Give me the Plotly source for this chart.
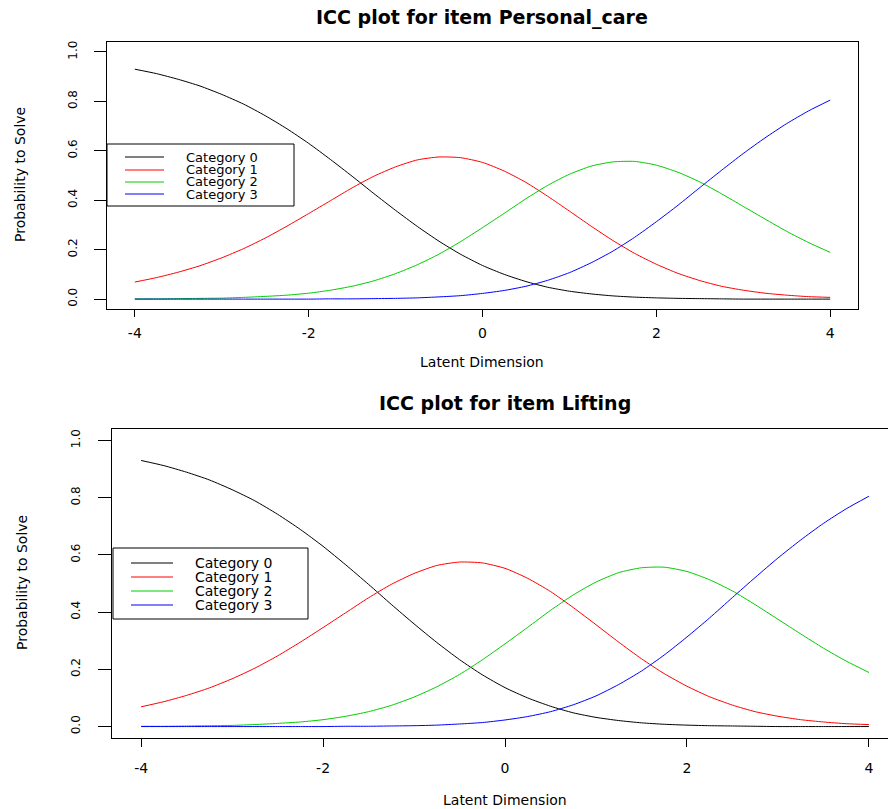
import plotly.graph_objects as go

W, H = 888, 809

# ---- data ----
theta = [-4, -3.75, -3.5, -3.25, -3, -2.75, -2.5, -2.25, -2, -1.75, -1.5, -1.25, -1, -0.75, -0.5, -0.25,
         0, 0.25, 0.5, 0.75, 1, 1.25, 1.5, 1.75, 2, 2.25, 2.5, 2.75, 3, 3.25, 3.5, 3.75, 4]

pc_cat0 = [0.930, 0.912, 0.889, 0.862, 0.828, 0.789, 0.742, 0.689, 0.630, 0.565, 0.497, 0.427, 0.359, 0.294, 0.234, 0.181,
           0.136, 0.100, 0.071, 0.048, 0.032, 0.021, 0.013, 0.008, 0.005, 0.003, 0.002, 0.001, 0.000, 0.000, 0.000, 0.000, 0.000]
pc_cat1 = [0.069, 0.087, 0.109, 0.135, 0.167, 0.204, 0.247, 0.295, 0.346, 0.398, 0.450, 0.497, 0.535, 0.563, 0.575, 0.572,
           0.553, 0.518, 0.472, 0.416, 0.356, 0.295, 0.237, 0.185, 0.141, 0.104, 0.075, 0.052, 0.036, 0.024, 0.016, 0.010, 0.007]
pc_cat2 = [0.001, 0.001, 0.002, 0.003, 0.004, 0.007, 0.011, 0.016, 0.024, 0.036, 0.052, 0.074, 0.103, 0.139, 0.182, 0.233,
           0.289, 0.347, 0.406, 0.460, 0.505, 0.538, 0.555, 0.557, 0.542, 0.513, 0.474, 0.426, 0.375, 0.324, 0.274, 0.229, 0.189]
pc_cat3 = [0.000, 0.000, 0.000, 0.000, 0.000, 0.000, 0.000, 0.000, 0.000, 0.001, 0.001, 0.002, 0.003, 0.005, 0.009, 0.014,
           0.023, 0.035, 0.052, 0.076, 0.107, 0.147, 0.194, 0.250, 0.313, 0.380, 0.451, 0.521, 0.589, 0.652, 0.710, 0.761, 0.805]

lf_cat0 = [0.930, 0.912, 0.889, 0.862, 0.828, 0.789, 0.742, 0.689, 0.630, 0.565, 0.497, 0.427, 0.359, 0.294, 0.234, 0.181,
           0.136, 0.100, 0.071, 0.048, 0.032, 0.021, 0.013, 0.008, 0.005, 0.003, 0.002, 0.001, 0.000, 0.000, 0.000, 0.000, 0.000]
lf_cat1 = [0.069, 0.087, 0.109, 0.135, 0.167, 0.204, 0.247, 0.295, 0.346, 0.398, 0.450, 0.497, 0.535, 0.563, 0.575, 0.572,
           0.553, 0.518, 0.472, 0.416, 0.356, 0.295, 0.237, 0.185, 0.141, 0.104, 0.075, 0.052, 0.036, 0.024, 0.016, 0.010, 0.007]
lf_cat2 = [0.001, 0.001, 0.002, 0.003, 0.004, 0.007, 0.011, 0.016, 0.024, 0.036, 0.052, 0.074, 0.103, 0.139, 0.182, 0.233,
           0.289, 0.347, 0.406, 0.460, 0.505, 0.538, 0.555, 0.557, 0.542, 0.513, 0.474, 0.426, 0.375, 0.324, 0.274, 0.229, 0.189]
lf_cat3 = [0.000, 0.000, 0.000, 0.000, 0.000, 0.000, 0.000, 0.000, 0.000, 0.001, 0.001, 0.002, 0.003, 0.005, 0.009, 0.014,
           0.023, 0.035, 0.052, 0.076, 0.107, 0.147, 0.194, 0.250, 0.313, 0.380, 0.451, 0.521, 0.589, 0.652, 0.710, 0.761, 0.805]

categories = ["Category 0", "Category 1", "Category 2", "Category 3"]
colors = ["#000000", "#FF0000", "#00CD00", "#0000FF"]
xticks = [-4, -2, 0, 2, 4]
xticklabels = ["-4", "-2", "0", "2", "4"]
yticks = [0, 0.2, 0.4, 0.6, 0.8, 1.0]
yticklabels = ["0.0", "0.2", "0.4", "0.6", "0.8", "1.0"]
titles = ["ICC plot for item Personal_care", "ICC plot for item Lifting"]
xlabel = "Latent Dimension"
ylabel = "Probability to Solve"

FONT = "DejaVu Sans"


def px(x):
    return x / W


def py(y):
    return 1 - y / H


fig = go.Figure()

series = [
    ("x", "y", [pc_cat0, pc_cat1, pc_cat2, pc_cat3]),
    ("x2", "y2", [lf_cat0, lf_cat1, lf_cat2, lf_cat3]),
]
for xa, ya, curves in series:
    for name, col, vals in zip(categories, colors, curves):
        fig.add_trace(go.Scatter(
            x=theta, y=vals, mode="lines", name=name,
            line=dict(color=col, width=1, shape="spline", smoothing=0.6),
            xaxis=xa, yaxis=ya, showlegend=False, hoverinfo="skip"))

axis_common = dict(showline=True, mirror=True, linecolor="black", linewidth=1,
                   showgrid=False, zeroline=False, ticks="outside",
                   tickcolor="black", tickwidth=1)
xfont = dict(family=FONT, size=14, color="black")
yfont = dict(family=FONT, size=12, color="black")

fig.update_layout(
    width=W, height=H, margin=dict(l=0, r=0, t=0, b=0),
    paper_bgcolor="white", plot_bgcolor="white",
    xaxis=dict(domain=[px(107), px(858)], range=[-4.32, 4.32], tickvals=xticks, ticktext=xticklabels,
               ticklen=7, ticklabelstandoff=4, anchor="y", tickfont=xfont, **axis_common),
    yaxis=dict(domain=[py(309), py(42)], range=[-0.04, 1.04], tickvals=yticks,
               ticktext=yticklabels, tickangle=-90, ticklen=12, ticklabelstandoff=12,
               anchor="x", tickfont=yfont, **axis_common),
    xaxis2=dict(domain=[px(112), 1.0], range=[-4.32, 4.21], tickvals=xticks, ticktext=xticklabels,
                ticklen=8, ticklabelstandoff=9, anchor="y2", tickfont=xfont, **axis_common),
    yaxis2=dict(domain=[py(738), py(429)], range=[-0.04, 1.04], tickvals=yticks,
                ticktext=yticklabels, tickangle=-90, ticklen=13, ticklabelstandoff=13,
                anchor="x2", tickfont=yfont, **axis_common),
)

ann = []
shapes = []
# plot titles
for t, cx, cy in zip(titles, [482, 505], [18, 403]):
    ann.append(dict(text="<b>%s</b>" % t, x=px(cx), y=py(cy), xref="paper", yref="paper",
                    xanchor="center", yanchor="middle", showarrow=False,
                    font=dict(family=FONT, size=19, color="black")))
# axis titles
for cx, cy in [(482, 362), (505, 800)]:
    ann.append(dict(text=xlabel, x=px(cx), y=py(cy), xref="paper", yref="paper",
                    xanchor="center", yanchor="middle", showarrow=False,
                    font=dict(family=FONT, size=14, color="black")))
for cx, cy in [(20, 175), (22, 583)]:
    ann.append(dict(text=ylabel, x=px(cx), y=py(cy), xref="paper", yref="paper",
                    xanchor="center", yanchor="middle", showarrow=False, textangle=-90,
                    font=dict(family=FONT, size=14, color="black")))

# legends (R-style boxed legends)
legends = [
    dict(box=(107, 144, 294, 206), lx=(125, 164), tx=184, rows=[157, 170, 182, 194], fs=13),
    dict(box=(113, 548, 308, 619), lx=(131, 173), tx=193, rows=[563, 577, 591, 605], fs=14),
]
for lg in legends:
    x0, y0, x1, y1 = lg["box"]
    shapes.append(dict(type="rect", xref="paper", yref="paper",
                       x0=px(x0), x1=px(x1), y0=py(y1), y1=py(y0),
                       line=dict(color="black", width=1), fillcolor="white", layer="above"))
    for name, col, ry in zip(categories, colors, lg["rows"]):
        shapes.append(dict(type="line", xref="paper", yref="paper",
                           x0=px(lg["lx"][0]), x1=px(lg["lx"][1]), y0=py(ry), y1=py(ry),
                           line=dict(color=col, width=1), layer="above"))
        ann.append(dict(text=name, x=px(lg["tx"]), y=py(ry), xref="paper", yref="paper",
                        xanchor="left", yanchor="middle", showarrow=False,
                        font=dict(family=FONT, size=lg["fs"], color="black")))

fig.update_layout(annotations=ann, shapes=shapes)
fig.write_html("out.html")
